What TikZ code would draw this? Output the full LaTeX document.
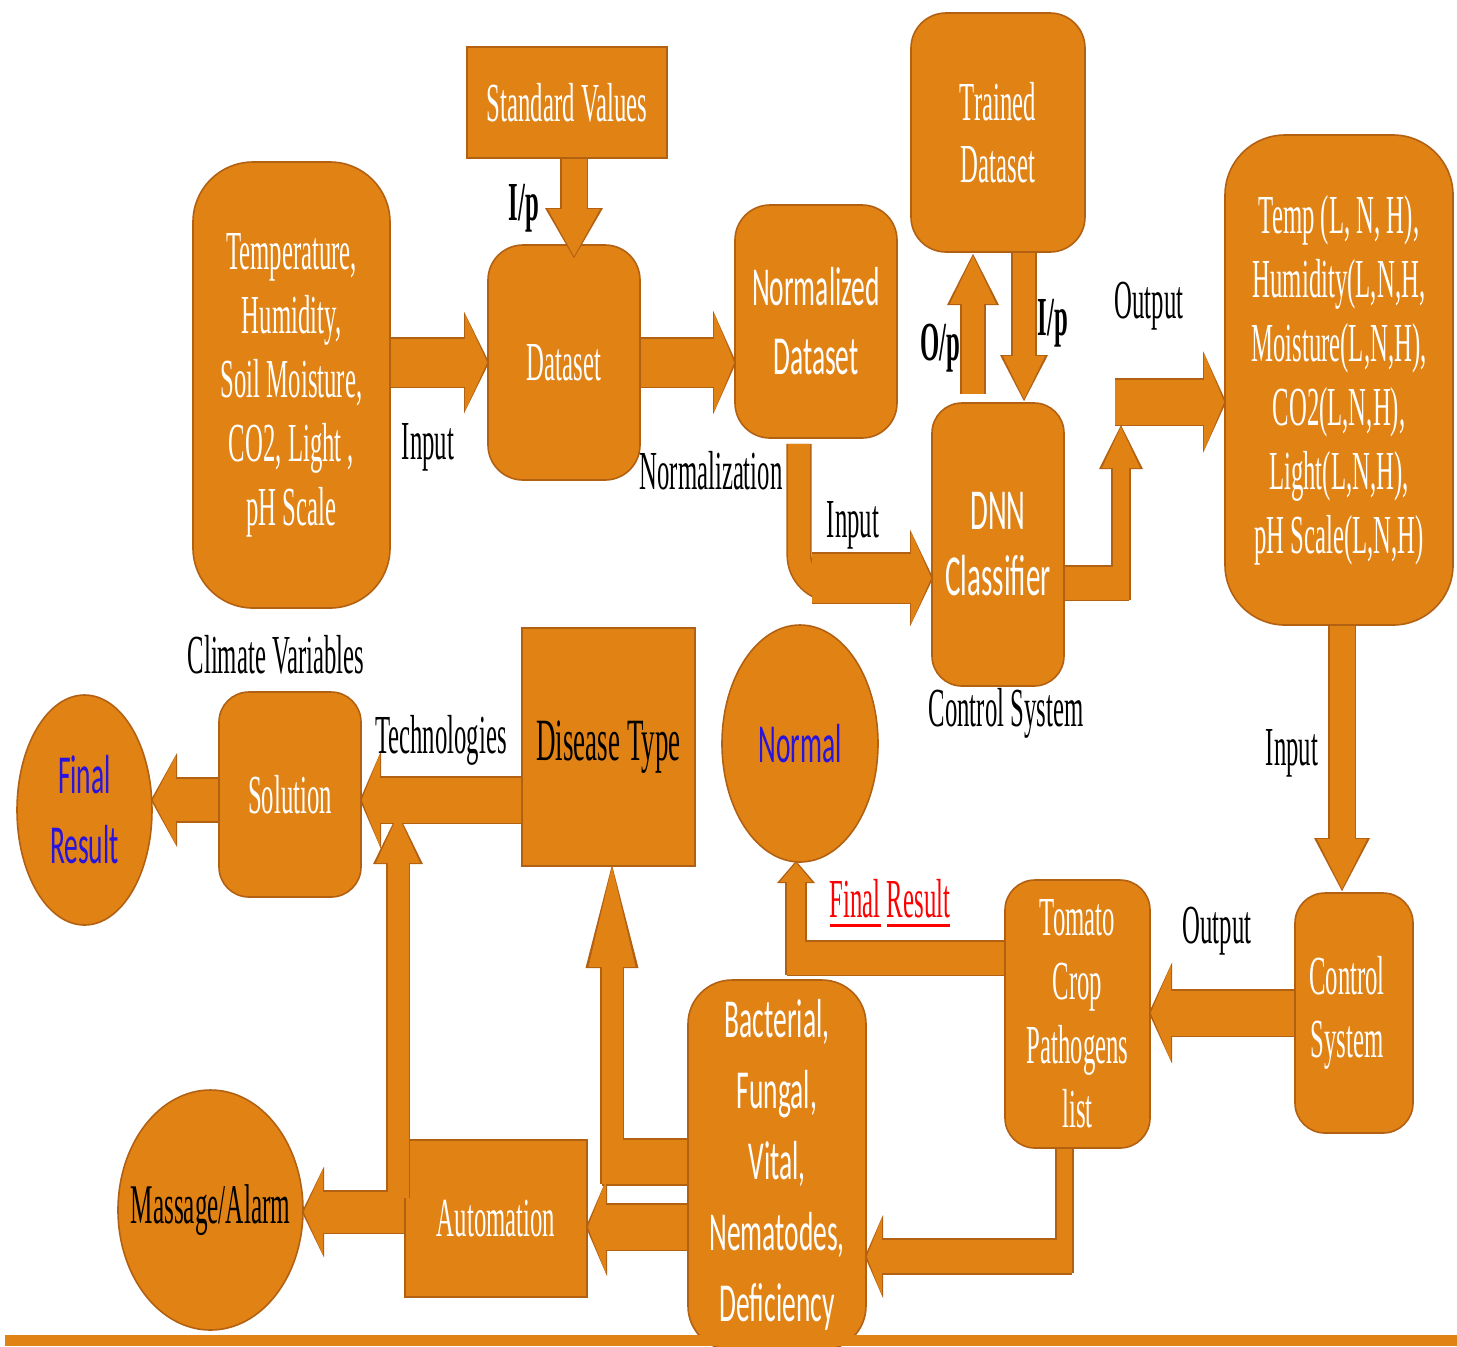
\documentclass[tikz,border=0pt]{standalone}
\usepackage{fontspec}
\setmainfont{Liberation Serif}[FakeStretch=0.45]
\newfontfamily\calib{Carlito}[FakeStretch=0.5]
\usetikzlibrary{shapes.geometric,arrows.meta,calc}

\definecolor{boxfill}{RGB}{225,130,20}
\definecolor{boxline}{RGB}{178,96,18}
\definecolor{resblue}{RGB}{40,20,220}

\newcommand{\redline}[1]{\setbox0=\hbox{#1}\rlap{\rule[-5pt]{\wd0}{1.5pt}}\box0\relax}

\tikzset{
  blk/.style={draw=boxline, fill=boxfill, line width=0.8pt, inner sep=0pt, align=center,
    text=white, font=\fontsize{27.5pt}{32pt}\selectfont},
  sqbox/.style={blk},
  rbox/.style={blk, rounded corners=#1},
  oval/.style={blk, ellipse},
  sans/.style={font=\calib\fontsize{27.5pt}{#1}\selectfont},
  lbl/.style={inner sep=0pt, font=\fontsize{27.5pt}{32pt}\selectfont},
  blbl/.style={inner sep=0pt, font=\bfseries\fontsize{27.5pt}{32pt}\selectfont},
  edge/.style={draw=boxline, line width=#1+1.6pt},
  body/.style={draw=boxfill, line width=#1},
  edgetip/.style 2 args={-{Triangle[length=#2+1.6pt, width=#1+3pt, line width=0pt, color=boxline, fill=boxline]}, shorten >=-1pt},
  bodytip/.style 2 args={-{Triangle[length=#2, width=#1, line width=0pt, color=boxfill, fill=boxfill]}}
}

% all block arrows, drawn once as outline and once as body
\newcommand{\flowarrows}[1]{%
  \draw[#1=12.5pt, #1tip={26pt}{23.5pt}] ($(std.south)+(7,0)$) -- ($(std.south |- dataset.north)+(7,12)$);
  \draw[#1=24pt, #1tip={48pt}{11pt}] (clim.east |- dataset.west) -- (dataset.west);
  \draw[#1=24pt, #1tip={49pt}{10pt}] (dataset.east) -- (dataset.east -| norm.west);
  \draw[#1=11pt, rounded corners=17.5pt] ($(norm.south)+(-17,5)$) |- (nbend);
  \draw[#1=24.5pt, #1tip={45.5pt}{10pt}] (nturn) -- (nturn -| dnn.west);
  \draw[#1=11pt, #1tip={23pt}{24pt}] ($(dnn.north)+(-25,-8)$) -- ($(trained.south)+(-25,3)$);
  \draw[#1=11pt, #1tip={21pt}{21.5pt}] ($(trained.south)+(26,0)$) -- ($(dnn.north)+(26,-3)$);
  \draw[#1=8pt, #1tip={19pt}{20.5pt}] ($(outtip |- dnnout)+(0,17)$) -- (outtip);
  \draw[#1=16.5pt] (dnnout -| dnn.east) -- (dnnout);
  \draw[#1=22.5pt, #1tip={48pt}{10pt}] (outstart) -- (outstart -| temp.west);
  \draw[#1=12.5pt, #1tip={25pt}{25pt}] ($(temp.south)+(3,0)$) -- ($(temp.south |- ctrl.north)+(3,-3)$);
  \draw[#1=22.5pt, #1tip={47.5pt}{10pt}] (ctrl.west) -- (ctrl.west -| tomato.east);
  \draw[#1=16.5pt] (rcorner -| tomato.west) -- (rcorner);
  \draw[#1=9pt, #1tip={16pt}{9.5pt}] (rfoot) -- (rfoot |- normal.south);
  \draw[#1=7.5pt] (tomato.south -| bvert) -- (bvert);
  \draw[#1=16.5pt, #1tip={38.5pt}{7.5pt}] (bcorner) -- (bcorner -| bact.east);
  \draw[#1=22.5pt, #1tip={46pt}{9pt}] ($(auto.east -| bact.west)+(0,8.5)$) -- ($(auto.east)+(0,8.5)$);
  \draw[#1=22pt] (dcorner -| bact.west) -- (dcorner);
  \draw[#1=10.5pt, #1tip={23.5pt}{50pt}] (dfoot) -- (dfoot |- disease.south);
  \draw[#1=22.5pt, #1tip={46pt}{9pt}] ($(solution.east -| disease.west)+(0,5.5)$) -- ($(solution.east)+(0,5.5)$);
  \draw[#1=21pt, #1tip={44pt}{11.5pt}] ($(solution.west)+(0,5.5)$) -- ($(solution.west -| final.east)+(0,5.5)$);
  \draw[#1=20.5pt, #1tip={42.5pt}{9.5pt}] ($(auto.west)+(0,-6.5)$) -- ($(auto.west -| massage.east)+(0,-6.5)$);
  \draw[#1=10.5pt, #1tip={22pt}{24pt}] (tfoot) -- (ttip);
}

\begin{document}
\begin{tikzpicture}[x=0.5pt, y=-0.5pt]
\useasboundingbox (0,0) rectangle (1457,1346);

% upper row
\node[sqbox, minimum width=100pt, minimum height=55.5pt] (std) at (567,102.5) {Standard Values};
\node[rbox=30pt, minimum width=98.5pt, minimum height=223pt] (clim) at (291.5,385)
  {Temperature,\\Humidity,\\Soil Moisture,\\CO2, Light ,\\pH Scale};
\node[rbox=17.5pt, minimum width=76pt, minimum height=117.5pt] (dataset) at (564,362.5) {Dataset};
\node[rbox=17.5pt, sans=34.5pt, minimum width=81pt, minimum height=116.5pt] (norm) at (816,321.5)
  {Normalized\\Dataset};
\node[rbox=17.5pt, minimum width=87pt, minimum height=119.5pt, font=\fontsize{27.5pt}{31pt}\selectfont] (trained) at (998,132.5)
  {Trained\\Dataset};
\node[rbox=15pt, sans=33pt, font=\calib\fontsize{29pt}{33pt}\selectfont, minimum width=66pt, minimum height=141.5pt] (dnn) at (998,544.5)
  {DNN\\Classifier};
\node[rbox=30pt, minimum width=114pt, minimum height=245pt] (temp) at (1339,380)
  {Temp (L, N, H),\\Humidity(L,N,H,\\Moisture(L,N,H),\\CO2(L,N,H),\\Light(L,N,H),\\pH Scale(L,N,H)};

% lower rows
\node[rbox=15pt, minimum width=59pt, minimum height=120pt, font=\fontsize{27.5pt}{31.5pt}\selectfont] (ctrl) at (1354,1013)
  {\hspace*{-7pt}Control\\\hspace*{-7pt}System};
\node[rbox=15pt, minimum width=72.5pt, minimum height=134pt] (tomato) at (1077.5,1014)
  {Tomato\\Crop\\Pathogens\\list};
\node[oval, sans=34pt, text=resblue, minimum width=78pt, minimum height=118.5pt] (normal) at (800,743.5)
  {\makebox[0pt]{Normal}};
\node[sqbox, text=black, font=\fontsize{30pt}{34pt}\selectfont, minimum width=86.5pt, minimum height=119pt] (disease) at (608.5,747)
  {Disease Type};
\node[rbox=15pt, minimum width=71pt, minimum height=102.5pt] (solution) at (290,794.5) {Solution};
\node[oval, sans=35pt, text=resblue, minimum width=67.5pt, minimum height=115pt] (final) at (84.5,810)
  {\makebox[0pt]{Final}\\\makebox[0pt]{Result}};
\node[rbox=22pt, sans=35.5pt, minimum width=89pt, minimum height=185pt] (bact) at (777,1165)
  {Bacterial,\\Fungal,\\Vital,\\Nematodes,\\Deficiency};
\node[sqbox, minimum width=91pt, minimum height=78.5pt] (auto) at (496,1218.5) {Automation};
\node[oval, text=black, font=\fontsize{28pt}{32pt}\selectfont, minimum width=92.5pt, minimum height=120pt] (massage) at (210.5,1210)
  {\makebox[0pt]{Massage/Alarm}};

% bends of the block arrows
\coordinate (nbend) at (840,590);
\coordinate (nturn) at (812,578);
\coordinate (dnnout) at (1129,583);
\coordinate (outtip) at (1121,427);
\coordinate (outstart) at (1115,402);
\coordinate (rcorner) at (787,958);
\coordinate (rfoot) at (796,975);
\coordinate (bvert) at (1064.5,1273);
\coordinate (bcorner) at (1072,1256.5);
\coordinate (dcorner) at (602,1162);
\coordinate (dfoot) at (612,1184);
\coordinate (tfoot) at (398,1198);
\coordinate (ttip) at (398,815);

\flowarrows{edge}
\flowarrows{body}

% labels
\node[blbl] (lip1) at (524,208) {I/p};
\node[lbl] (lin1) at (428,447) {Input};
\node[lbl] (lnorm) at (711,471) {Normalization};
\node[lbl] (lin2) at (853,525) {Input};
\node[blbl] (lop) at (940,348) {O/p};
\node[blbl] (lip2) at (1053,323) {I/p};
\node[lbl] (lout1) at (1149,306) {Output};
\node[lbl] (lcs) at (1006,713) {Control System};
\node[lbl] (lclim) at (276,655) {Climate Variables};
\node[lbl] (ltech) at (441,740) {Technologies};
\node[lbl] (lin3) at (1292,753) {Input};
\node[lbl] (lout2) at (1217,931) {Output};
\node[lbl, text=red] (lres) at (890,903) {\redline{Final} \redline{Result}};

\fill[boxfill] (5,1335) rectangle (1457,1346);
\end{tikzpicture}
\end{document}
